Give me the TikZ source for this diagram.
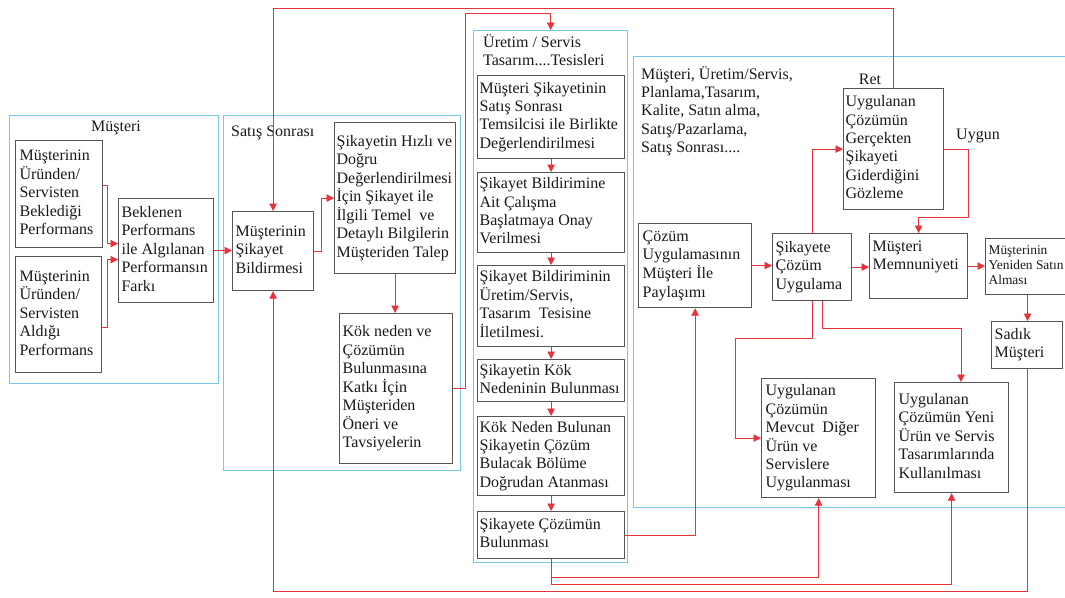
\documentclass[tikz,border=0pt]{standalone}
\usepackage{fontspec}
\setmainfont{Liberation Serif}
\usetikzlibrary{arrows.meta,calc}
\definecolor{cbl}{RGB}{120,200,232}
\definecolor{crd}{RGB}{232,50,60}
\definecolor{cgr}{RGB}{85,85,85}
\definecolor{ctx}{RGB}{25,25,25}
\newcommand{\bt}[2]{\makebox[#1][l]{\begin{tabular}{@{}l@{}}#2\end{tabular}}}
\begin{document}
\begin{tikzpicture}[x=1pt,y=-1pt,
  cont/.style={draw=cbl, line width=1.4pt, anchor=north west, inner sep=0pt},
  bx/.style={draw=cgr, line width=1.2pt, anchor=north west, inner sep=0pt, text=ctx, font=\fontsize{16}{18.4}\selectfont},
  arr/.style={draw=crd, line width=0.9pt, -{Triangle[length=7.5pt,width=7.5pt]}},
  lbl/.style={inner sep=0pt, text=ctx, font=\fontsize{16}{18.4}\selectfont}]
\useasboundingbox (0,0) rectangle (1065,597);
\clip (0,0) rectangle (1065,597);
% containers
\node[cont, minimum width=209pt, minimum height=268pt] (c1) at (9,115) {};
\node[cont, minimum width=237pt, minimum height=355pt] (c2) at (223,115) {};
\node[cont, minimum width=154pt, minimum height=532pt] (c3) at (473,30) {};
\node[cont, minimum width=450pt, minimum height=451pt] (c4) at (633,56) {};
% labels
\node[lbl] (tM) at (116,128) {Müşteri};
\node[lbl, anchor=west] (tS) at (231,133) {Satış Sonrası};
\node[lbl, anchor=north west] (tU) at (483,34) {\begin{tabular}{@{}l@{}}Üretim / Servis\\Tasarım....Tesisleri\end{tabular}};
\node[lbl, anchor=north west] (tR) at (641,66) {\begin{tabular}{@{}l@{}}Müşteri, Üretim/Servis,\\Planlama,Tasarım,\\Kalite, Satın alma,\\Satış/Pazarlama,\\Satış Sonrası....\end{tabular}};
\node[lbl] (tRet) at (870,79) {Ret};
\node[lbl] (tUy) at (978,136) {Uygun};
% boxes
\node[bx, minimum width=87pt, minimum height=107pt] (A) at (15,140) {\bt{79pt}{Müşterinin\\Üründen/\\Servisten\\Beklediği\\Performans}};
\node[bx, minimum width=86pt, minimum height=116pt] (B) at (15,256) {\bt{78pt}{Müşterinin\\Üründen/\\Servisten\\Aldığı\\Performans}};
\node[bx, minimum width=95pt, minimum height=104pt] (C) at (118,198) {\bt{89pt}{Beklenen\\Performans\\ile Algılanan\\Performansın\\Farkı}};
\node[bx, minimum width=81pt, minimum height=79pt] (D) at (232,211) {\bt{75pt}{Müşterinin\\Şikayet\\Bildirmesi}};
\node[bx, minimum width=121pt, minimum height=151pt] (E) at (334,122) {\bt{117pt}{Şikayetin Hızlı ve\\Doğru\\Değerlendirilmesi\\İçin Şikayet ile\\İlgili Temel\ \ ve\\Detaylı Bilgilerin\\Müşteriden Talep}};
\node[bx, minimum width=113pt, minimum height=150pt] (F) at (339,313) {\bt{107pt}{Kök neden ve\\Çözümün\\Bulunmasına\\Katkı İçin\\Müşteriden\\Öneri ve\\Tavsiyelerin}};
\node[bx, minimum width=147pt, minimum height=83pt] (G) at (477,75) {\bt{143pt}{Müşteri Şikayetinin\\Satış Sonrası\\Temsilcisi ile Birlikte\\Değerlendirilmesi}};
\node[bx, minimum width=147pt, minimum height=80pt] (H) at (477,172) {\bt{143pt}{Şikayet Bildirimine\\Ait Çalışma\\Başlatmaya Onay\\Verilmesi}};
\node[bx, minimum width=147pt, minimum height=81pt] (I) at (477,265) {\bt{143pt}{Şikayet Bildiriminin\\Üretim/Servis,\\Tasarım\ \ Tesisine\\İletilmesi.}};
\node[bx, minimum width=147pt, minimum height=42pt] (J) at (477,359) {\bt{143pt}{Şikayetin Kök\\Nedeninin Bulunması}};
\node[bx, minimum width=147pt, minimum height=79pt] (K) at (477,416) {\bt{143pt}{Kök Neden Bulunan\\Şikayetin Çözüm\\Bulacak Bölüme\\Doğrudan Atanması}};
\node[bx, minimum width=147pt, minimum height=47pt] (L) at (477,511) {\bt{143pt}{Şikayete Çözümün\\Bulunması}};
\node[bx, minimum width=113pt, minimum height=84pt] (M) at (638,223) {\bt{105pt}{Çözüm\\Uygulamasının\\Müşteri İle\\Paylaşımı}};
\node[bx, minimum width=79pt, minimum height=67pt] (N) at (772,233) {\bt{73pt}{Şikayete\\Çözüm\\Uygulama}};
\node[bx, minimum width=98pt, minimum height=65pt] (O) at (869,233) {\bt{92pt}{Müşteri\\Memnuniyeti\\\mbox{}}};
\node[bx, minimum width=84pt, minimum height=56pt, font=\fontsize{13.4}{15}\selectfont] (P) at (985,238) {\bt{78pt}{Müşterinin\\Yeniden Satın\\Alması}};
\node[bx, minimum width=71pt, minimum height=47pt] (Q) at (991,321) {\bt{65pt}{Sadık\\Müşteri}};
\node[bx, minimum width=100pt, minimum height=121pt] (R) at (843,88) {\bt{96pt}{Uygulanan\\Çözümün\\Gerçekten\\Şikayeti\\Giderdiğini\\Gözleme}};
\node[bx, minimum width=114pt, minimum height=119pt] (S) at (761,378) {\bt{106pt}{Uygulanan\\Çözümün\\Mevcut\ \ Diğer\\Ürün ve\\Servislere\\Uygulanması}};
\node[bx, minimum width=114pt, minimum height=110pt] (T) at (894,382) {\bt{106pt}{Uygulanan\\Çözümün Yeni\\Ürün ve Servis\\Tasarımlarında\\Kullanılması}};
% connectors
\draw[arr] ([yshift=8.5pt]A.east) -- ++(4,0) |- ([yshift=7pt]C.west);
\draw[arr] ([yshift=-13pt]B.east) -- ++(5,0) |- ([yshift=-9pt]C.west);
\draw[arr] (C.east) -- (C.east -| D.west);
\draw[arr] (D.east) -- ++(7,0) |- (E.west);
\draw[arr] (E.south) -- (E.south |- F.north);
\coordinate (k1) at (465,13);
\draw[arr] (F.east) -| (k1) -| (c3.north);
\foreach \a/\b in {G/H,H/I,I/J,J/K,K/L} \draw[arr] (\a.south) -- (\b.north);
\draw[arr] (L.east) -| (M.south);
\draw[arr] (M.east) -- (M.east -| N.west);
\draw[arr] (N.east) -- (N.east -| O.west);
\draw[arr] (O.east) -- (O.east -| P.west);
\draw[arr] (P.south) -- (P.south |- Q.north);
\draw[arr] (N.north) |- (R.west);
\coordinate (u1) at (968,217);
\draw[arr] (R.east) -| (u1) -| (O.north);
\coordinate (ty) at (0,8);
\draw[arr] (R.north) |- (ty -| D.north) -- (D.north);
\coordinate (s1) at (735,338);
\draw[arr] (N.south) |- (s1) |- (S.west);
\coordinate (s2) at (961,328);
\draw[arr] ([xshift=10pt]N.south) |- (s2) -- (s2 |- T.north);
\coordinate (b1) at (0,577);
\coordinate (b2) at (0,584);
\coordinate (b3) at (0,591);
\draw[arr] (L.south) |- (b1 -| S.south) -- (S.south);
\draw[arr] (L.south) |- (b2 -| T.south) -- (T.south);
\draw[arr] (Q.south) |- (b3 -| D.south) -- (D.south);
\end{tikzpicture}
\end{document}
